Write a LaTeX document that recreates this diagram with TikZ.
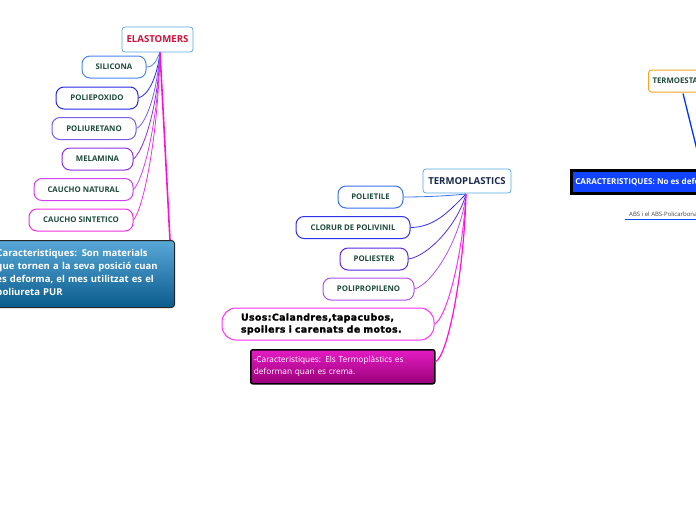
\documentclass[tikz,border=0pt]{standalone}
\usepackage{fontspec}
\setmainfont{Open Sans}
\newfontfamily\heavyfont[FakeBold=2,LetterSpace=4]{DejaVu Sans Bold}
\usetikzlibrary{calc}
\definecolor{hubline}{HTML}{5AA8E0}
\definecolor{elred}{HTML}{D0103A}
\definecolor{leaftext}{HTML}{1E4B3C}
\definecolor{navytext}{HTML}{1A2A4A}
\definecolor{ca}{HTML}{4A86F0}
\definecolor{cb}{HTML}{2828E8}
\definecolor{cc}{HTML}{7A5AF0}
\definecolor{cd}{HTML}{8A30E0}
\definecolor{ce}{HTML}{D040F0}
\definecolor{cf}{HTML}{F030E0}
\definecolor{ta}{HTML}{3A70F0}
\definecolor{tb}{HTML}{3030F0}
\definecolor{tc}{HTML}{5A2AE0}
\definecolor{td}{HTML}{B050F0}
\definecolor{te}{HTML}{FF30F0}
\definecolor{mag}{HTML}{FF10D0}
\definecolor{orangeb}{HTML}{F5A623}
\definecolor{bluefill}{HTML}{1044FF}
\definecolor{eltop}{HTML}{58A8D8}
\definecolor{elbot}{HTML}{0A5C8C}
\definecolor{tptop}{HTML}{E41CC4}
\definecolor{tpbot}{HTML}{9A0078}
\begin{document}
\begin{tikzpicture}[x=1pt,y=-1pt,
  hub/.style={draw=hubline, line width=0.8pt, rounded corners=3pt, fill=white, font=\bfseries\fontsize{9.6}{10}\selectfont, minimum height=25pt, inner sep=0pt},
  leaf/.style={draw=#1, line width=1pt, rounded corners=8pt, fill=white, text=leaftext, font=\bfseries\fontsize{7.8}{8}\selectfont, minimum height=22pt, inner sep=0pt},
  conn/.style={draw=#1, line width=0.8pt},
  thick conn/.style={draw=mag, line width=1.6pt},
]
\useasboundingbox (0,0) rectangle (696,520);
\clip (0,0) rectangle (696,520);

% ---------------- ELASTOMERS ----------------
\node[hub, text=elred, minimum width=71pt] (el) at (157.5,39.5) {ELASTOMERS};
\coordinate (eh) at (160,52.5);

\node[leaf=ca, minimum width=64pt] (sil) at (114,67) {SILICONA};
\node[leaf=cb, minimum width=82pt] (pep) at (97,98) {POLIEPOXIDO};
\node[leaf=cc, minimum width=84pt] (pur) at (94,128.5) {POLIURETANO};
\node[leaf=cd, minimum width=71pt] (mel) at (97.5,159) {MELAMINA};
\node[leaf=ce, minimum width=99pt] (cn) at (83.5,189.5) {CAUCHO NATURAL};
\node[leaf=cf, minimum width=104pt] (cs) at (81,220) {CAUCHO SINTETICO};

\node[draw=black!85, line width=1pt, rounded corners=3pt, top color=eltop, bottom color=elbot,
      anchor=north west, text width=172pt, inner xsep=6pt, inner ysep=0pt, minimum height=67pt, align=left, text=white,
      font=\bfseries\fontsize{9.5}{13}\selectfont] (ech) at (-10,240)
  {Caracteristiques: Son materials\\que tornen a la seva posició cuan\\es deforma, el mes utilitzat es el\\poliureta PUR};

\draw[conn=ca] (sil.east) .. controls +(8,0) and +(-4,8) .. (eh);
\draw[conn=cb] (pep.east) .. controls +(10,-3) and +(-3,25) .. (eh);
\draw[conn=cc] (pur.east) .. controls +(10,-5) and +(-3,40) .. (eh);
\draw[conn=cd] (mel.east) .. controls +(10,-8) and +(-2,55) .. (eh);
\draw[conn=ce] (cn.east) .. controls +(10,-10) and +(-2,70) .. (eh);
\draw[conn=cf] (cs.east) .. controls +(10,-12) and +(-2,85) .. (eh);
\draw[thick conn] (eh) -- ($(ech.north east)+(-5,0)$);

% ---------------- TERMOPLASTICS ----------------
\node[hub, text=navytext, minimum width=88pt, minimum height=24pt] (tp) at (467,181) {TERMOPLASTICS};
\coordinate (th) at (466,194);

\node[leaf=ta, minimum width=65pt] (pe) at (370.5,197) {POLIETILE};
\node[leaf=tb, minimum width=114pt] (pvc) at (353,227.5) {CLORUR DE POLIVINIL};
\node[leaf=tc, minimum width=68pt] (pes) at (374,259) {POLIESTER};
\node[leaf=td, minimum width=91pt] (pp) at (368.5,289) {POLIPROPILENO};

\node[draw=te, line width=1pt, rounded corners=14pt, fill=white, minimum width=212pt, minimum height=32pt,
      text width=190pt, inner xsep=11pt, inner ysep=0pt, align=left, text=black,
      font=\heavyfont\fontsize{9.4}{12}\selectfont] (usos) at (328,324)
  {\hspace*{8pt}Usos:Calandres,tapacubos,\\\hspace*{8pt}spoilers i carenats de motos.};

\node[draw=black, line width=1.5pt, rounded corners=2pt, top color=tptop, bottom color=tpbot,
      anchor=north west, text width=178pt, inner xsep=3pt, inner ysep=0pt, minimum height=34pt, align=left, text=white,
      font=\fontsize{8.3}{12}\selectfont] (tch) at (250,349)
  {-Caracteristiques: Els Termoplàstics es\\deforman quan es crema.};

\draw[conn=ta] (pe.east) .. controls +(20,0) and +(-20,2) .. (th);
\draw[conn=tb] (pvc.east) .. controls +(25,0) and +(-15,15) .. (th);
\draw[conn=tc] (pes.east) .. controls +(20,-3) and +(-8,30) .. (th);
\draw[conn=td] (pp.east) .. controls +(18,-5) and +(-5,45) .. (th);
\draw[draw=te, line width=1pt] (usos.east) .. controls +(12,-5) and +(-3,60) .. (th);
\draw[thick conn, line width=1.2pt] ($(tch.east)+(0,-5)$) .. controls +(12,-5) and +(-2,80) .. (th);

% ---------------- TERMOESTABLES ----------------
\node[draw=orangeb, line width=1pt, rounded corners=3pt, fill=white, text=leaftext, anchor=west,
      font=\bfseries\fontsize{7.8}{8}\selectfont, minimum height=22pt, inner xsep=4pt] (tes) at (648,81) {TERMOESTABLES};
\coordinate (tesend) at (700,162);
\draw[draw=blue!80!cyan, line width=1.3pt] ($(tes.south west)+(35,1)$) -- (tesend);

\node[draw=black, line width=2.5pt, fill=bluefill, text=white, anchor=west, inner xsep=4pt,
      font=\bfseries\fontsize{8.1}{9}\selectfont, minimum height=23pt] (tcar) at (570,182) {CARACTERISTIQUES: No es deforman quan es crema};

\node[anchor=west, text=black!75, font=\fontsize{6}{6}\selectfont, inner xsep=4pt, inner ysep=2pt] (abs) at (625,214.5) {ABS i el ABS-Policarbonat};
\draw[draw=blue!70!cyan, line width=0.9pt] (abs.south west) -- (abs.south east);
\end{tikzpicture}
\end{document}
